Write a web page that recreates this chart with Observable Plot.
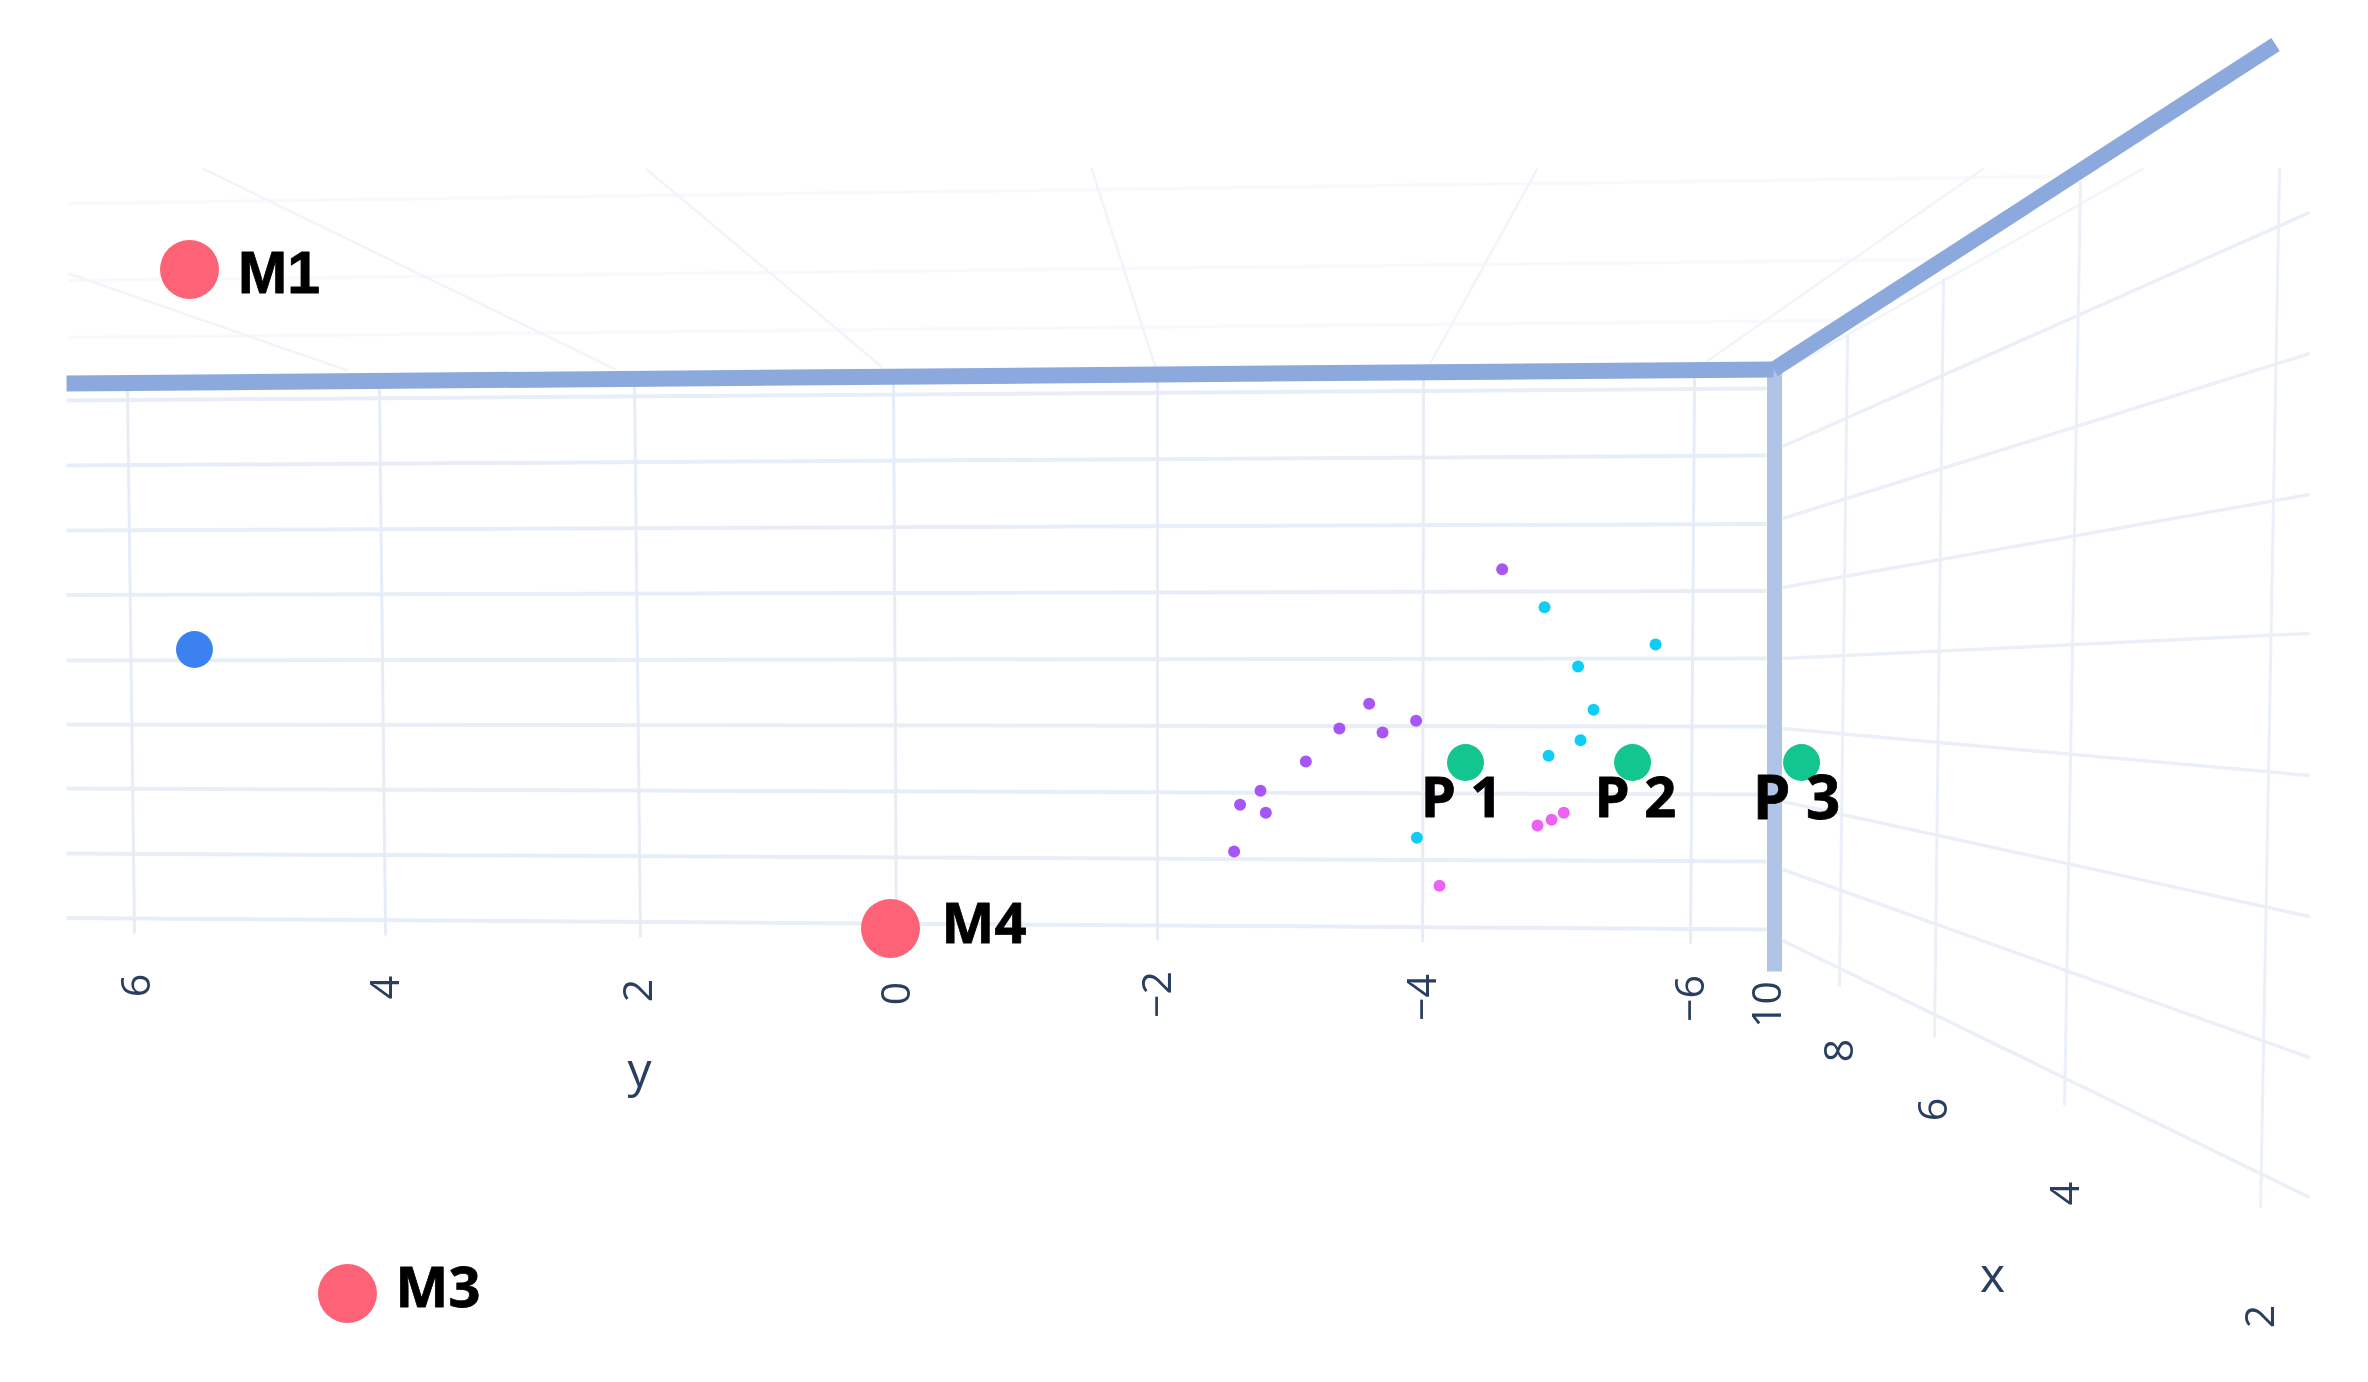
<!DOCTYPE html>
<html>
<head>
<meta charset="utf-8">
<style>html,body{margin:0;padding:0;background:#fff}svg{display:block}</style>
<script src="https://cdn.jsdelivr.net/npm/d3@7"></script>
<script src="https://cdn.jsdelivr.net/npm/@observablehq/plot@0.6"></script>
</head>
<body>
<script>
// Values read from the projected 3D view. h = horizontal screen axis in y units, v = vertical grid steps.
const purpleH = [-4.674,-3.651,-3.422,-3.754,-4.012,-3.164,-2.815,-2.658,-2.856,-2.612];
const purpleV = [5.389,3.318,2.938,2.877,3.057,2.431,1.98,1.765,1.642,1.046];
const cyanH = [-5.0,-5.854,-5.258,-5.377,-5.277,-5.031,-4.018];
const cyanV = [4.805,4.231,3.892,3.226,2.758,2.518,1.257];
const magentaH = [-5.148,-5.054,-4.946,-4.192];
const magentaV = [1.642,1.534,1.446,0.518];
const greenH = [-4.392,-5.677,-6.977];
const greenV = [2.415,2.415,2.415];
const blueH = [5.385];
const blueV = [4.154];
const pinkH = [5.423,0.031,4.208];
const pinkV = [10.0,-0.138,-5.754];

const pointLabels = ["M4","M3","P 1","P 2"];
const pointLabelH = [-0.362,3.838,-4.047,-5.385];
const pointLabelV = [-0.092,-5.692,1.845,1.845];
const p3Label = ["P 3"], p3LabelH = [-6.601], p3LabelV = [1.845];
const m1Label = ["M1"], m1LabelH = [5.05], m1LabelV = [9.93];

const tickLabels = ["6","4","2","0","−2","−4","−6","10","8","6","4","2"];
const tickH = [5.831,3.915,1.969,-0.015,-2.023,-4.062,-6.123,-6.715,-7.269,-7.992,-9.008,-10.508];
const tickV = [-1.015,-1.046,-1.092,-1.138,-1.154,-1.2,-1.215,-1.308,-2.015,-2.923,-4.215,-6.108];
const axisTitles = ["y","x"];
const axisTitleH = [1.962,-8.446];
const axisTitleV = [-2.34,-5.5];

// Segments as [h1, v1, h2, v2]
const frontRows = [[6.369,7.985,-6.708,8.169],[6.369,6.985,-6.708,7.138],[6.369,5.985,-6.708,6.085],[6.369,4.992,-6.708,5.054],[6.369,3.985,-6.708,4.015],[6.369,3,-6.708,2.969],[6.369,2.015,-6.708,1.923],[6.369,1.015,-6.708,0.892],[6.369,0.023,-6.708,-0.154]];
const frontCols = [[5.9,8.138,5.846,-0.215],[3.962,8.2,3.915,-0.246],[2.0,8.246,1.954,-0.277],[0.008,8.277,-0.015,-0.308],[-2.023,8.292,-2.023,-0.323],[-4.069,8.308,-4.062,-0.354],[-6.154,8.338,-6.123,-0.369]];
const ceilingRows = [[6.354,11.015,-8.908,11.431],[6.354,9.831,-7.977,10.154],[6.354,8.954,-7.223,9.215]];
const ceilingCols = [[5.323,11.554,2.146,8.462],[6.354,9.938,4.208,8.446],[1.915,11.554,0.092,8.492],[-1.515,11.554,-2.008,8.492],[-4.946,11.554,-4.115,8.538],[-8.377,11.554,-6.246,8.585],[-9.608,11.554,-6.815,8.415]];
const wallCols = [[-7.331,8.985,-7.269,-1.031],[-8.069,9.862,-8.0,-1.815],[-9.123,11.354,-9.0,-2.862],[-10.654,11.554,-10.508,-4.431]];
const wallRows = [[-6.831,7.277,-10.885,10.877],[-6.831,6.169,-10.885,8.708],[-6.831,5.108,-10.885,6.538],[-6.831,4.015,-10.885,4.4],[-6.831,2.938,-10.885,2.215],[-6.831,1.815,-10.885,0.046],[-6.831,0.769,-10.885,-2.123],[-6.831,-0.323,-10.885,-4.277]];
const topEdge = [[6.369,8.246,-6.762,8.462]];
const sideEdge = [[-6.762,8.462,-10.623,13.462]];
const cornerEdge = [[-6.769,8.462,-6.769,-0.8]];

const seg = (rows, o) => Plot.link(rows, {x1: d => d[0], y1: d => d[1], x2: d => d[2], y2: d => d[3], strokeLinecap: "butt", ...o});
const pts = (H, V, o) => Plot.dot(H.map((h, i) => ({h, v: V[i]})), {x: "h", y: "v", stroke: null, ...o});
const txt = (T, H, V, o) => Plot.text(T.map((t, i) => ({t, h: H[i], v: V[i]})), {x: "h", y: "v", text: "t", ...o});

const chart = Plot.plot({
  width: 2368, height: 1382,
  marginTop: 0, marginRight: 0, marginBottom: 0, marginLeft: 0,
  x: {domain: [6.877, -11.338], axis: null},
  y: {domain: [-7.123, 14.138], axis: null},
  style: {background: "#fff", fontFamily: "'Open Sans', sans-serif", filter: "blur(0.7px)"},
  marks: [
    seg(ceilingRows, {stroke: "#f7f9fc", strokeWidth: 3.5}),
    seg(ceilingCols, {stroke: "#f1f5fa", strokeWidth: 2.5}),
    seg(frontRows, {stroke: "#e8eef7", strokeWidth: 4}),
    seg(frontCols, {stroke: "#e6edf7", strokeWidth: 3}),
    seg(wallRows, {stroke: "#ebf0f8", strokeWidth: 3.5}),
    seg(wallCols, {stroke: "#ebf0f8", strokeWidth: 3}),
    seg(cornerEdge, {stroke: "#b0c4e8", strokeWidth: 15}),
    seg(topEdge, {stroke: "#8ba9dc", strokeWidth: 16}),
    seg(sideEdge, {stroke: "#8ba9dc", strokeWidth: 15.5}),
    pts(purpleH, purpleV, {r: 6, fill: "#a855f7"}),
    pts(cyanH, cyanV, {r: 6, fill: "#0fcdf5"}),
    pts(magentaH, magentaV, {r: 6, fill: "#ec62f5"}),
    pts(blueH, blueV, {r: 18.5, fill: "#3b82f0"}),
    pts(pinkH, pinkV, {r: 29.5, fill: "#fe6276"}),
    pts(greenH, greenV, {r: 18.5, fill: "#13c58e"}),
    txt(tickLabels, tickH, tickV, {rotate: -90, fontSize: 41, fill: "#2a3f5f"}),
    txt(axisTitles, axisTitleH, axisTitleV, {fontSize: 48, fill: "#2a3f5f"}),
    txt(m1Label, m1LabelH, m1LabelV, {textAnchor: "start", fontSize: 59, fontWeight: 700, fill: "#000", stroke: "#000", strokeWidth: 0.8, fontFamily: "'Liberation Sans', sans-serif"}),
    txt(pointLabels, pointLabelH, pointLabelV, {textAnchor: "start", fontSize: 56, fontWeight: 700, fill: "#000", stroke: "#000", strokeWidth: 0.8}),
    txt(p3Label, p3LabelH, p3LabelV, {textAnchor: "start", fontSize: 60, fontWeight: 700, fill: "#000", stroke: "#000", strokeWidth: 0.8})
  ]
});
document.body.appendChild(chart);
</script>
</body>
</html>
